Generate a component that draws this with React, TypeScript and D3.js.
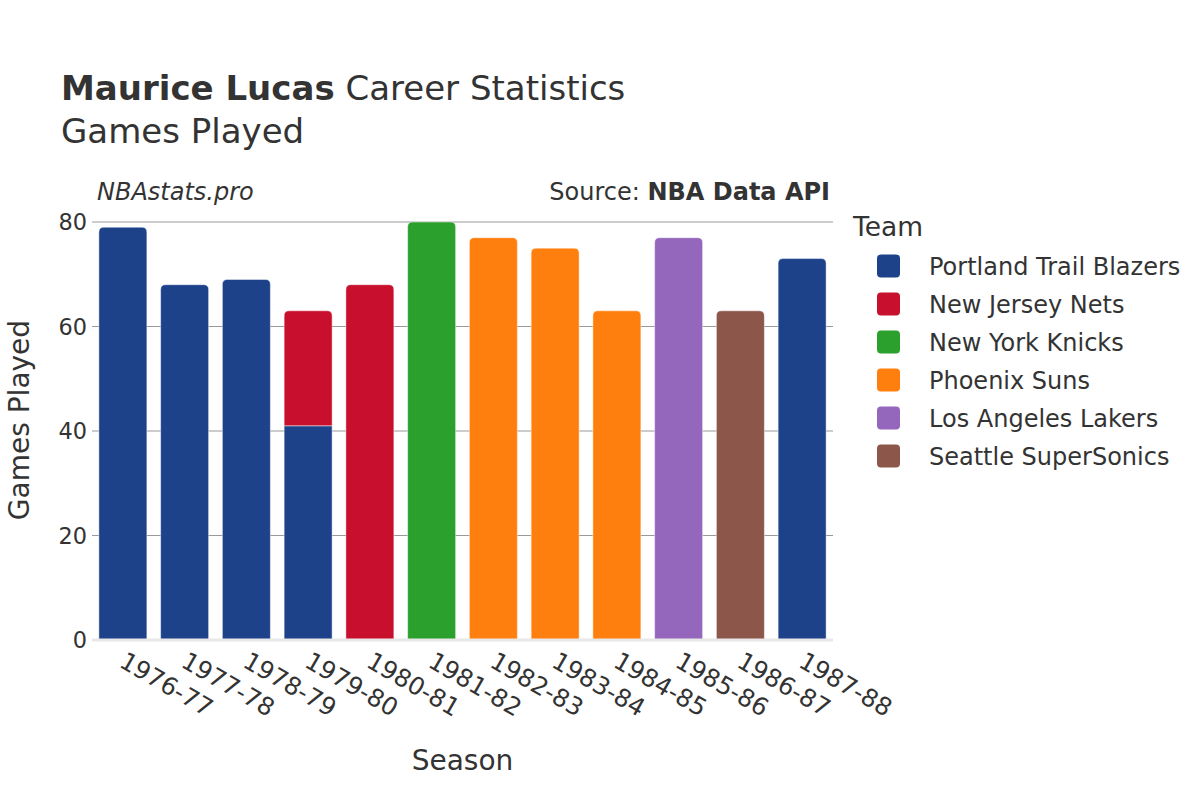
import { useEffect, useRef } from "react";
import * as d3 from "d3";

const seasons = [
  "1976-77", "1977-78", "1978-79", "1979-80", "1980-81", "1981-82",
  "1982-83", "1983-84", "1984-85", "1985-86", "1986-87", "1987-88",
];

const teams = [
  "Portland Trail Blazers",
  "New Jersey Nets",
  "New York Knicks",
  "Phoenix Suns",
  "Los Angeles Lakers",
  "Seattle SuperSonics",
];

const teamColors = ["#1d428a", "#c8102e", "#2ca02c", "#ff7f0e", "#9467bd", "#8c564b"];

// one entry per team stint, stacked in this order within a season
const stintSeason = ["1976-77", "1977-78", "1978-79", "1979-80", "1979-80", "1980-81", "1981-82", "1982-83", "1983-84", "1984-85", "1985-86", "1986-87", "1987-88"];
const stintTeam = [
  "Portland Trail Blazers", "Portland Trail Blazers", "Portland Trail Blazers",
  "Portland Trail Blazers", "New Jersey Nets", "New Jersey Nets",
  "New York Knicks", "Phoenix Suns", "Phoenix Suns", "Phoenix Suns",
  "Los Angeles Lakers", "Seattle SuperSonics", "Portland Trail Blazers",
];
const stintGames = [79, 68, 69, 41, 22, 68, 80, 77, 75, 63, 77, 63, 73];

const yTicks = [0, 20, 40, 60, 80];

const W = 1200;
const H = 800;
const PLOT = { left: 92, right: 833, top: 222, bottom: 640 };
const FONT = "'DejaVu Sans', sans-serif";
const INK = "#333";

function topRoundedRect(x: number, y: number, w: number, h: number, r: number) {
  const rr = Math.min(r, h / 2, w / 2);
  return `M${x},${y + h}V${y + rr}Q${x},${y} ${x + rr},${y}H${x + w - rr}Q${x + w},${y} ${x + w},${y + rr}V${y + h}Z`;
}

export default function App() {
  const svgRef = useRef<SVGSVGElement>(null);

  useEffect(() => {
    const svgEl = svgRef.current;
    if (!svgEl) return;
    const svg = d3.select(svgEl);
    svg.selectAll("*").remove();

    const x = d3
      .scaleBand<string>()
      .domain(seasons)
      .range([PLOT.left, PLOT.right])
      .paddingInner(0.223)
      .paddingOuter(0.1115);

    const y = d3.scaleLinear().domain([0, 80]).range([PLOT.bottom, PLOT.top]);

    const color = d3.scaleOrdinal<string, string>().domain(teams).range(teamColors);

    // Title block
    const title = svg
      .append("text")
      .attr("x", 61)
      .attr("y", 100)
      .attr("font-family", FONT)
      .attr("font-size", 34)
      .attr("fill", INK);
    title.append("tspan").attr("font-weight", "bold").text("Maurice Lucas");
    title.append("tspan").text(" Career Statistics");

    svg
      .append("text")
      .attr("x", 61)
      .attr("y", 143)
      .attr("font-family", FONT)
      .attr("font-size", 34)
      .attr("fill", INK)
      .text("Games Played");

    svg
      .append("text")
      .attr("x", 97)
      .attr("y", 200)
      .attr("font-family", FONT)
      .attr("font-size", 24)
      .attr("font-style", "italic")
      .attr("fill", INK)
      .text("NBAstats.pro");

    const src = svg
      .append("text")
      .attr("x", 830)
      .attr("y", 200)
      .attr("text-anchor", "end")
      .attr("font-family", FONT)
      .attr("font-size", 24)
      .attr("fill", INK);
    src.append("tspan").text("Source: ");
    src.append("tspan").attr("font-weight", "bold").text("NBA Data API");

    // Grid
    svg
      .append("g")
      .selectAll("line")
      .data(yTicks.slice(1))
      .enter()
      .append("line")
      .attr("x1", PLOT.left)
      .attr("x2", PLOT.right)
      .attr("y1", (d) => y(d))
      .attr("y2", (d) => y(d))
      .attr("stroke", (d) => (d === 80 ? "#bdbdbd" : "#999"))
      .attr("stroke-width", (d) => (d === 80 ? 1.5 : 1));

    svg
      .append("g")
      .selectAll("text")
      .data(yTicks)
      .enter()
      .append("text")
      .attr("x", 87)
      .attr("y", (d) => y(d))
      .attr("dy", "0.36em")
      .attr("text-anchor", "end")
      .attr("font-family", FONT)
      .attr("font-size", 22.4)
      .attr("fill", INK)
      .text((d) => d);

    // Bars (stacked per season)
    const running = new Map<string, number>();
    const lastIndex = new Map<string, number>();
    stintSeason.forEach((s, i) => lastIndex.set(s, i));

    stintSeason.forEach((s, i) => {
      const start = running.get(s) ?? 0;
      const end = start + stintGames[i];
      running.set(s, end);
      const bx = x(s)!;
      const bw = x.bandwidth();
      const yTop = y(end);
      const h = y(start) - yTop;
      const isTop = lastIndex.get(s) === i;
      svg
        .append("path")
        .attr("d", isTop ? topRoundedRect(bx, yTop, bw, h, 5) : `M${bx},${yTop}h${bw}v${h}h${-bw}Z`)
        .attr("fill", color(stintTeam[i]))
        .attr("stroke", "rgba(255,255,255,0.45)")
        .attr("stroke-width", 1);
    });

    // Zero line
    svg
      .append("line")
      .attr("x1", PLOT.left)
      .attr("x2", PLOT.right)
      .attr("y1", y(0))
      .attr("y2", y(0))
      .attr("stroke", "#e8e8e8")
      .attr("stroke-width", 3);

    // X tick labels, rotated
    svg
      .append("g")
      .selectAll("text")
      .data(seasons)
      .enter()
      .append("text")
      .attr("transform", (d) => {
        const cx = x(d)! + x.bandwidth() / 2 - 5;
        return `translate(${cx},666) rotate(30)`;
      })
      .attr("font-family", FONT)
      .attr("font-size", 24.5)
      .attr("fill", INK)
      .text((d) => d);

    // Axis titles
    svg
      .append("text")
      .attr("x", (PLOT.left + PLOT.right) / 2)
      .attr("y", 770)
      .attr("text-anchor", "middle")
      .attr("font-family", FONT)
      .attr("font-size", 28)
      .attr("fill", INK)
      .text("Season");

    svg
      .append("text")
      .attr("transform", "translate(29,420) rotate(-90)")
      .attr("text-anchor", "middle")
      .attr("font-family", FONT)
      .attr("font-size", 28)
      .attr("fill", INK)
      .text("Games Played");

    // Legend
    svg
      .append("text")
      .attr("x", 853)
      .attr("y", 236)
      .attr("font-family", FONT)
      .attr("font-size", 26.5)
      .attr("fill", INK)
      .text("Team");

    const legend = svg
      .append("g")
      .selectAll("g")
      .data(teams)
      .enter()
      .append("g")
      .attr("transform", (_d, i) => `translate(0,${266 + i * 38})`);

    legend
      .append("rect")
      .attr("x", 877)
      .attr("y", -11.5)
      .attr("width", 23)
      .attr("height", 23)
      .attr("rx", 4)
      .attr("fill", (d) => color(d));

    legend
      .append("text")
      .attr("x", 929)
      .attr("dy", "0.36em")
      .attr("font-family", FONT)
      .attr("font-size", 24)
      .attr("fill", INK)
      .text((d) => d);
  }, []);

  return (
    <svg
      ref={svgRef}
      width={W}
      height={H}
      style={{ position: "absolute", left: 0, top: 0, background: "#fff" }}
    />
  );
}
